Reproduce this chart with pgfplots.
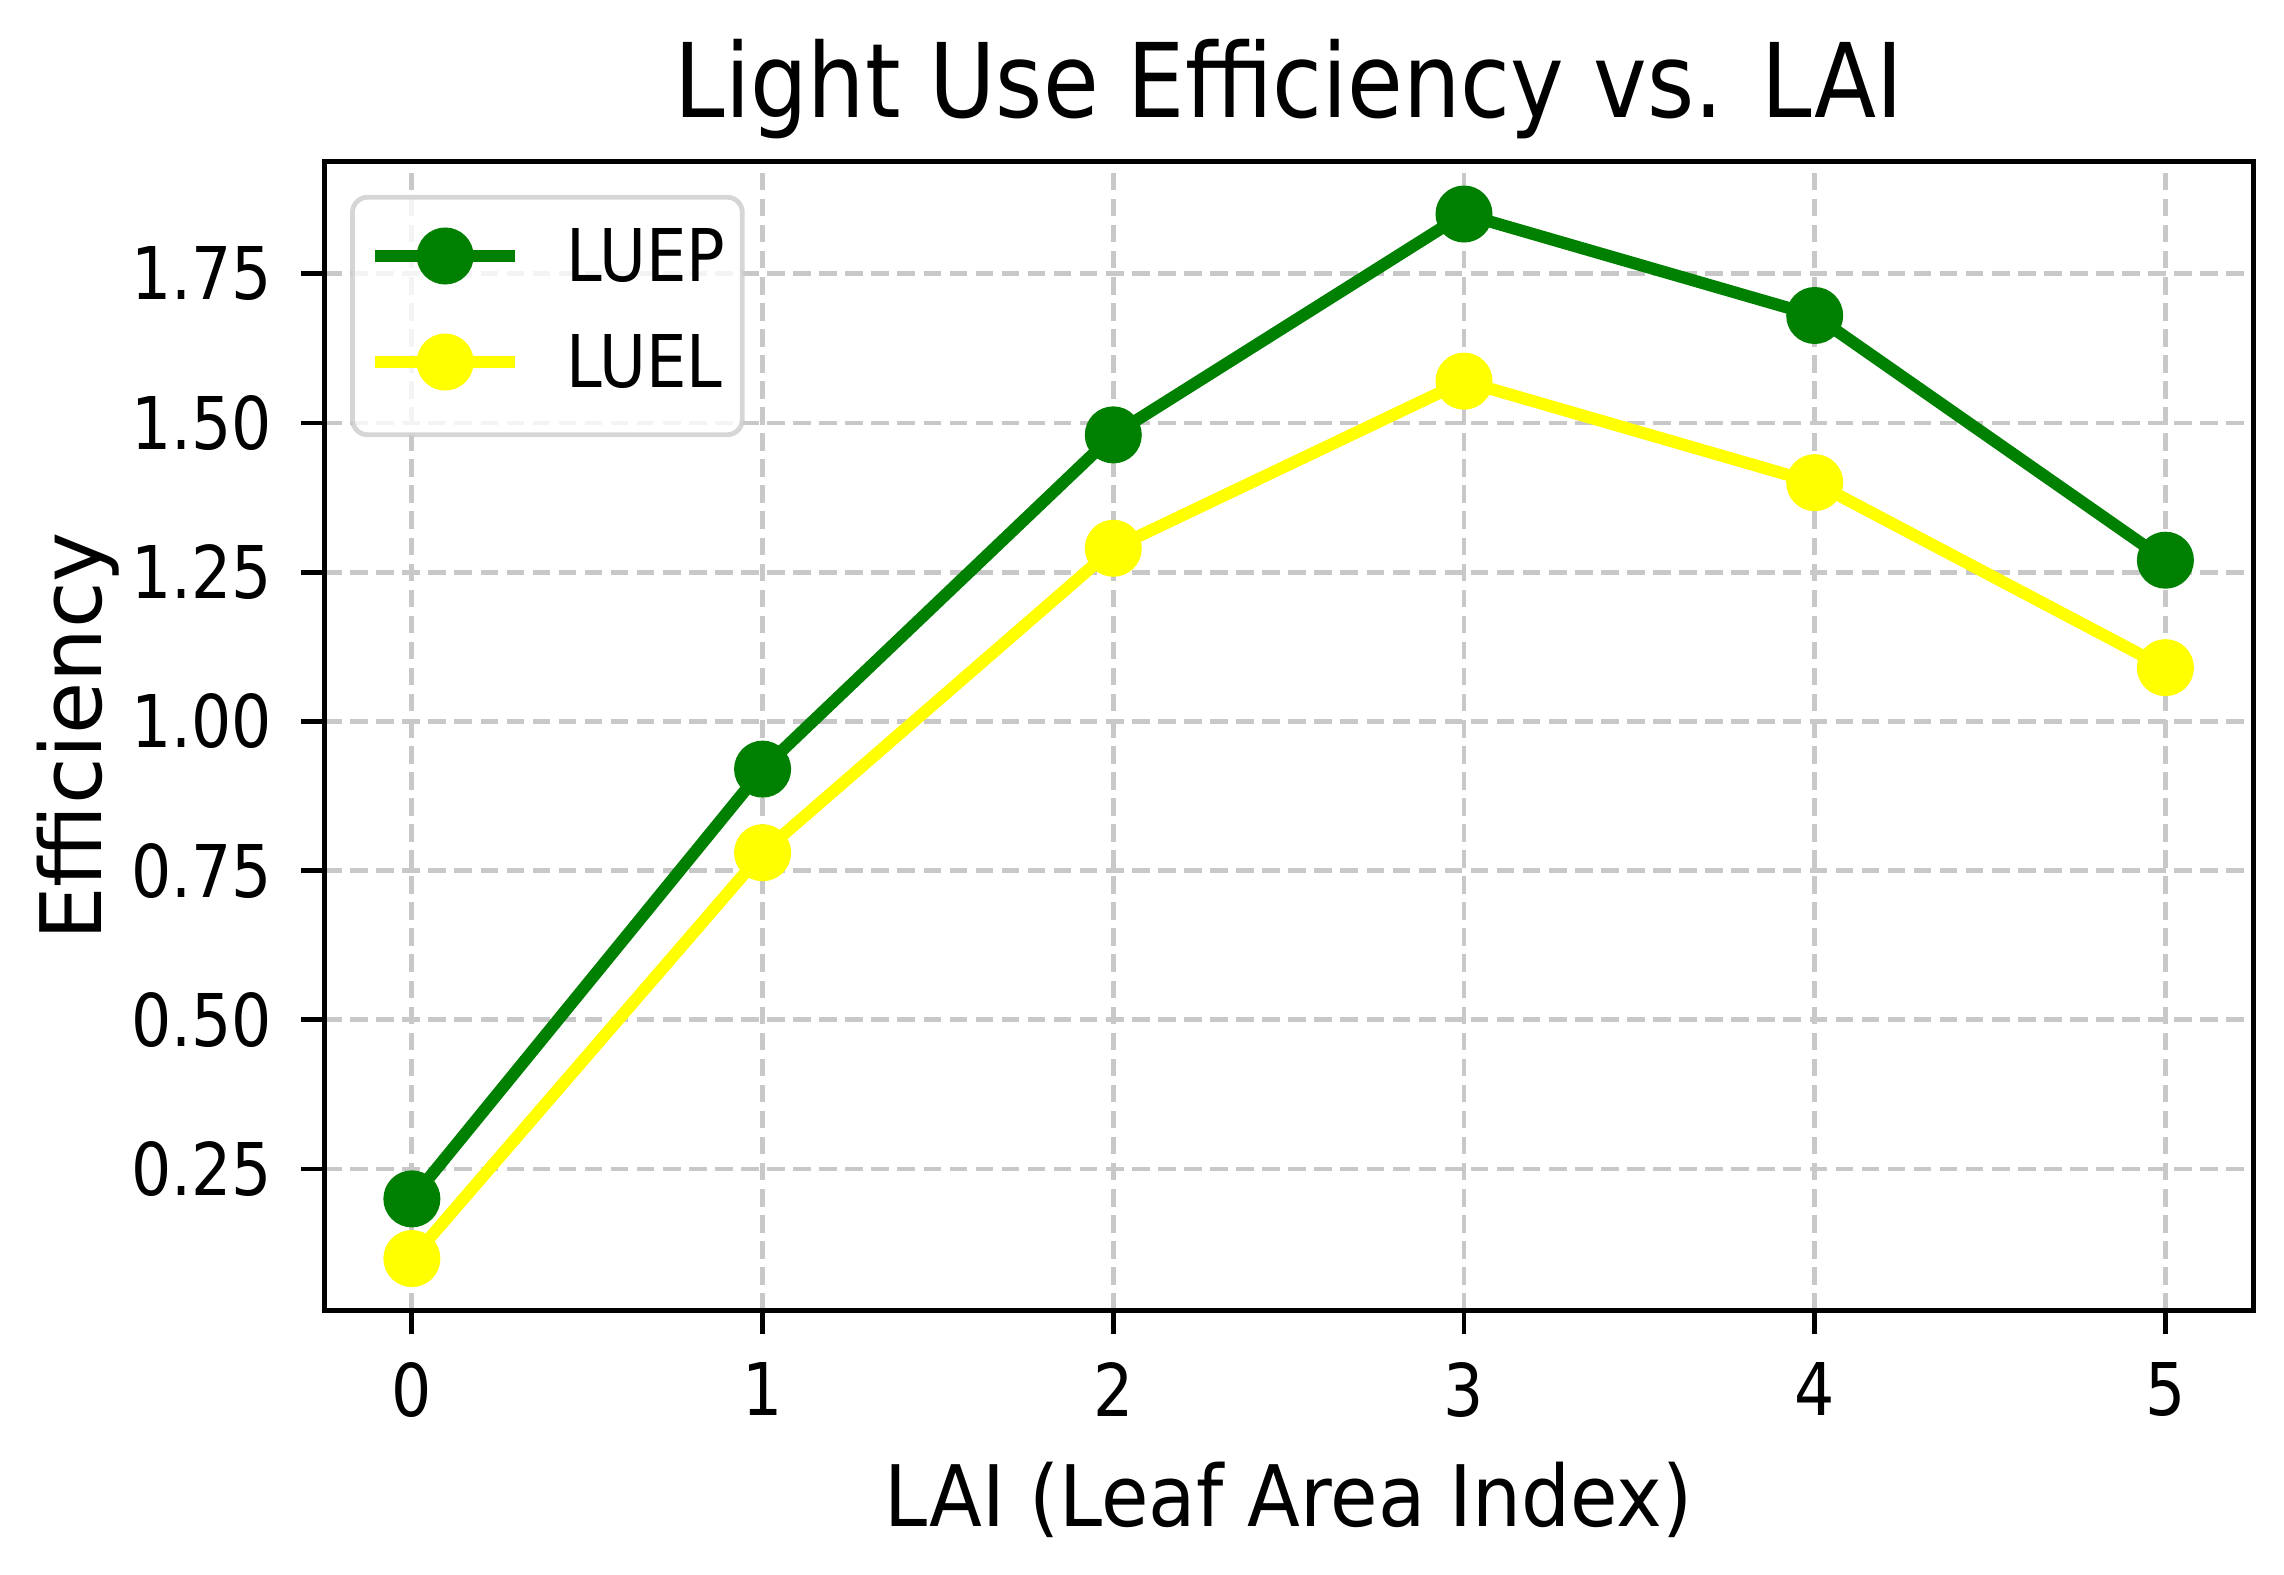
\documentclass[border=0pt]{standalone}
\usepackage{pgfplots}
\pgfplotsset{compat=1.18}
\usepackage{fontspec}
\setmainfont{DejaVu Sans}
\newfontfamily\tickfont[FakeStretch=0.87]{DejaVu Sans}
\newfontfamily\titlefont[FakeStretch=0.88]{DejaVu Sans}
\newfontfamily\labelfont[FakeStretch=0.91]{DejaVu Sans}
\newfontfamily\legfont[FakeStretch=0.88]{DejaVu Sans}
\definecolor{mplgreen}{HTML}{008000}
\definecolor{mplyellow}{HTML}{FFFF00}
\definecolor{gridgray}{HTML}{C8C8C8}
\begin{document}
\begin{tikzpicture}
\useasboundingbox (-53.5pt,-43.6pt) rectangle (323.4pt,216.3pt);
\begin{axis}[
  scale only axis,
  width=318.3pt, height=189.6pt,
  xmin=-0.25, xmax=5.25,
  ymin=0.0125, ymax=1.9375,
  xtick={0,1,2,3,4,5},
  ytick={0.25,0.5,0.75,1.0,1.25,1.5,1.75},
  /pgf/number format/assume math mode=true,
  yticklabel style={/pgf/number format/fixed,/pgf/number format/fixed zerofill,/pgf/number format/precision=2,
    anchor=east, inner sep=0pt, xshift=-4.6pt},
  xticklabel style={anchor=north, inner sep=0pt, yshift=-4.5pt},
  ticklabel style={font=\tickfont\fontsize{12}{14}\selectfont},
  tick pos=left,
  tick align=outside,
  major tick length=3.8pt,
  every tick/.style={black, line width=0.8pt},
  axis line style={line width=0.8pt},
  grid=major,
  major grid style={gridgray, line width=0.8pt, dash pattern=on 2.9pt off 1.4pt},
  title={Light Use Efficiency vs. LAI},
  every axis title/.style={at={(axis description cs:0.5,1.0383)}, anchor=base, inner sep=0pt, font=\titlefont\fontsize{17}{20}\selectfont},
  xlabel={LAI (Leaf Area Index)},
  xlabel style={at={(axis description cs:0.5,-0.188)}, anchor=base, inner sep=0pt, font=\labelfont\fontsize{14}{17}\selectfont},
  ylabel={Efficiency},
  ylabel style={at={(axis description cs:-0.1275,0.5)}, anchor=center, inner sep=0pt, font=\fontsize{14}{17}\selectfont},
  legend image code/.code={%
    \draw[mark repeat=2,mark phase=2,#1] plot coordinates {(0pt,4.2pt) (11.5pt,4.2pt) (23pt,4.2pt)};
    \path (0pt,4.2pt) (30.6pt,4.2pt);},
  legend image post style={opacity=1},
  legend style={at={(axis description cs:0.0134,0.9713)}, anchor=north west,
    draw=black!20, line width=0.8pt, rounded corners=2.5pt, fill=white,
    fill opacity=0.8, draw opacity=0.8, text opacity=1,
    inner xsep=2.8pt, inner ysep=5.1pt, row sep=6.0pt,
    font=\legfont\fontsize{12}{14}\selectfont,
    cells={anchor=base west},
    nodes={inner sep=0pt, text height=8.8pt, text depth=2.7pt, anchor=base west},
    /tikz/every even column/.append style={column sep=0pt}},
]
\addplot[mplgreen, line width=2pt, mark=*, mark size=3.7pt, mark options={solid, fill=mplgreen, draw=mplgreen}]
  coordinates {(0,0.20) (1,0.92) (2,1.48) (3,1.85) (4,1.68) (5,1.27)};
\addlegendentry{LUEP\hspace{1.2pt}}
\addplot[mplyellow, line width=2pt, mark=*, mark size=3.7pt, mark options={solid, fill=mplyellow, draw=mplyellow}]
  coordinates {(0,0.10) (1,0.78) (2,1.29) (3,1.57) (4,1.40) (5,1.09)};
\addlegendentry{LUEL}
\end{axis}
\end{tikzpicture}
\end{document}
